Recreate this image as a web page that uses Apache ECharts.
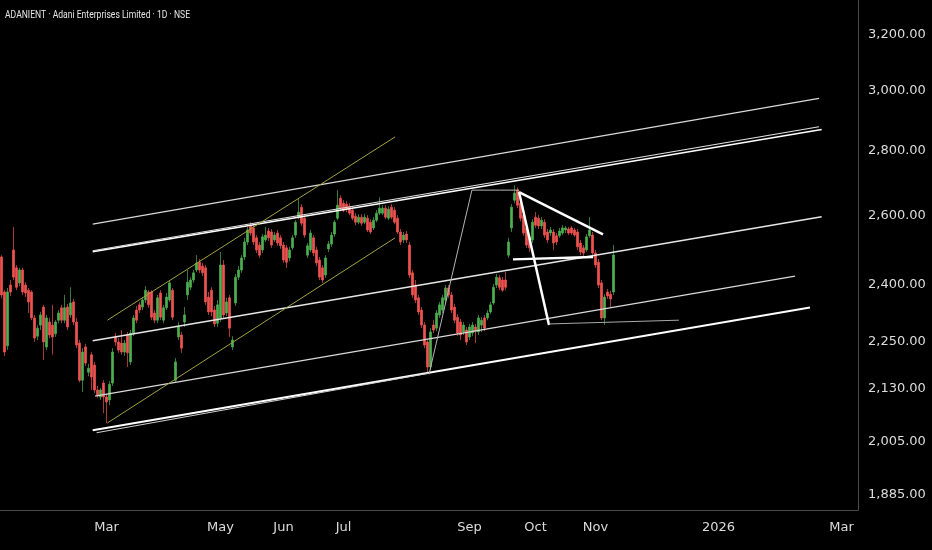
<!DOCTYPE html>
<html><head><meta charset="utf-8">
<script src="https://cdn.jsdelivr.net/npm/echarts@6/dist/echarts.min.js"></script>
<style>html,body{margin:0;padding:0;background:#000;}#c{width:932px;height:550px;}</style>
</head><body><div id="c"></div>
<script>
// daily candles: [open, close, low, high]
const ohlc = [
[2479,2373,2365,2484],[2381,2222,2212,2386],[2238,2381,2227,2392],[2400,2381,2370,2414],[2499,2422,2414,2566],
[2448,2394,2386,2456],[2406,2442,2397,2448],[2442,2381,2373,2448],[2400,2378,2367,2408],[2386,2354,2324,2392],
[2381,2311,2305,2386],[2311,2258,2248,2319],[2263,2284,2253,2292],[2292,2319,2279,2327],[2340,2248,2202,2346],
[2235,2311,2227,2319],[2300,2266,2258,2311],[2292,2261,2215,2346],[2269,2300,2261,2305],[2305,2324,2297,2332],
[2338,2305,2297,2346],[2305,2338,2297,2373],[2340,2287,2279,2348],[2319,2351,2311,2394],[2354,2300,2292,2362],
[2300,2240,2232,2311],[2245,2151,2146,2253],[2151,2222,2122,2232],[2235,2194,2187,2243],[2171,2181,2161,2192],
[2215,2159,2127,2222],[2189,2127,2120,2197],[2127,2115,2108,2137],[2110,2127,2103,2132],[2144,2110,2071,2151],
[2110,2098,2048,2117],[2103,2141,2090,2149],[2144,2222,2137,2232],[2261,2248,2238,2271],[2248,2227,2220,2258],
[2245,2222,2215,2279],[2222,2245,2212,2253],[2266,2220,2184,2274],[2197,2271,2189,2279],[2271,2311,2263,2319],
[2332,2305,2297,2343],[2346,2332,2324,2354],[2340,2359,2332,2367],[2359,2386,2351,2397],[2381,2346,2338,2386],
[2381,2313,2305,2386],[2324,2305,2297,2332],[2305,2365,2297,2373],[2378,2313,2305,2386],[2305,2338,2297,2346],
[2338,2367,2332,2378],[2359,2406,2354,2414],[2386,2313,2305,2392],[2151,2197,2146,2207],[2261,2287,2253,2300],
[2266,2232,2220,2274],[2300,2319,2287,2340],[2373,2408,2359,2442],[2394,2414,2386,2422],[2414,2434,2406,2442],
[2442,2462,2436,2484],[2464,2442,2434,2473],[2453,2434,2425,2462],[2448,2354,2346,2456],[2367,2327,2319,2381],
[2386,2327,2316,2394],[2332,2295,2287,2343],[2297,2346,2287,2359],[2311,2456,2300,2493],[2456,2319,2311,2470],
[2324,2354,2316,2365],[2365,2284,2261,2373],[2235,2253,2227,2263],[2351,2422,2343,2431],[2422,2442,2414,2453],
[2442,2476,2434,2484],[2479,2522,2470,2534],[2522,2557,2513,2566],[2571,2548,2540,2580],[2563,2522,2513,2571],
[2534,2499,2490,2542],[2513,2484,2476,2522],[2499,2537,2490,2545],[2528,2542,2522,2566],[2554,2534,2525,2563],
[2551,2513,2505,2560],[2528,2542,2522,2551],[2548,2519,2511,2557],[2534,2511,2502,2542],[2513,2470,2462,2522],
[2505,2464,2448,2513],[2476,2499,2467,2508],[2505,2534,2499,2542],[2542,2580,2534,2586],[2595,2610,2589,2652],
[2625,2577,2569,2634],[2592,2542,2534,2601],[2484,2511,2476,2519],[2499,2548,2493,2557],[2534,2490,2482,2542],
[2499,2462,2453,2508],[2470,2422,2414,2479],[2448,2414,2406,2456],[2428,2476,2420,2484],[2502,2516,2493,2525],
[2516,2542,2508,2551],[2545,2580,2537,2586],[2592,2631,2586,2677],[2652,2622,2613,2661],[2637,2616,2610,2646],
[2634,2619,2610,2643],[2628,2607,2601,2637],[2616,2592,2586,2625],[2598,2580,2571,2607],[2580,2595,2574,2604],
[2595,2577,2569,2604],[2580,2595,2574,2604],[2592,2557,2551,2601],[2580,2551,2545,2589],[2563,2586,2557,2595],
[2586,2607,2580,2616],[2607,2622,2601,2655],[2607,2622,2601,2631],[2622,2595,2589,2631],[2592,2619,2586,2628],
[2625,2595,2589,2634],[2616,2580,2574,2625],[2592,2551,2545,2601],[2551,2522,2513,2560],[2528,2542,2519,2551],
[2545,2528,2519,2554],[2513,2428,2420,2522],[2434,2373,2365,2442],[2400,2359,2351,2414],[2365,2327,2319,2373],
[2332,2292,2284,2340],[2292,2240,2232,2300],[2248,2184,2171,2256],[2184,2274,2176,2284],[2292,2279,2271,2305],
[2284,2324,2276,2332],[2319,2346,2311,2354],[2332,2365,2324,2373],[2359,2392,2351,2400],[2392,2373,2365,2400],
[2373,2332,2324,2381],[2340,2305,2297,2348],[2313,2271,2263,2321],[2300,2266,2253,2308],[2274,2292,2266,2300],
[2279,2248,2240,2287],[2261,2287,2253,2295],[2271,2292,2263,2300],[2287,2276,2245,2295],[2274,2311,2266,2319],
[2292,2305,2274,2313],[2311,2284,2276,2319],[2311,2324,2305,2332],[2327,2346,2321,2354],[2351,2394,2346,2403],
[2400,2422,2392,2431],[2420,2394,2386,2428],[2414,2386,2381,2422],[2414,2394,2386,2436],[2484,2522,2476,2534],
[2563,2625,2551,2634],[2646,2668,2637,2692],[2677,2631,2622,2686],[2637,2592,2583,2646],[2601,2548,2540,2610],
[2563,2513,2505,2571],[2537,2505,2493,2545],[2528,2580,2519,2589],[2595,2571,2563,2610],[2592,2569,2560,2601],
[2569,2586,2560,2595],[2580,2542,2534,2589],[2551,2528,2519,2560],[2548,2557,2540,2566],[2551,2519,2499,2560],
[2540,2522,2513,2548],[2540,2554,2534,2563],[2548,2563,2542,2571],[2557,2563,2548,2569],[2560,2548,2542,2566],
[2563,2548,2542,2569],[2557,2542,2537,2563],[2551,2508,2499,2560],[2519,2493,2484,2528],[2505,2490,2482,2513],
[2499,2537,2493,2545],[2540,2557,2534,2595],[2542,2490,2484,2551],[2490,2456,2448,2499],[2464,2400,2392,2473],
[2406,2311,2305,2414],[2311,2367,2292,2375],[2381,2370,2362,2389],[2375,2362,2340,2384],[2381,2484.5,2373,2513.5]
];
const lastPrice = 2484.5;
const slotCount = 286; // trading-day slots incl. future space
const xTickIdx = [35, 73, 94, 114, 156, 178, 198, 239, 280];
const xTickText = ['Mar', 'May', 'Jun', 'Jul', 'Sep', 'Oct', 'Nov', '2026', 'Mar'];
const yTicks = [1885, 2005, 2130, 2250, 2400, 2600, 2800, 3000, 3200];
const yRange = [1852.8, 3331.5];
const title = 'ADANIENT · Adani Enterprises Limited · 1D · NSE';

// user drawings: [barIndex, price]
const chanTop = [[30.4, 2574.5], [272.5, 2975]];
const chanUpper = [[30.4, 2494], [273.4, 2870]];
const chanUpper2 = [[30.4, 2496.6], [272.5, 2879.5]];
const chanMid = [[30.4, 2251], [273.4, 2596]];
const chanLowMid = [[31.2, 2112], [264.5, 2425]];
const chanBottom = [[30.4, 2031], [269.5, 2339]];
const chanBottom2 = [[31.7, 2025], [142.8, 2169]];
const oliveUp = [[35.3, 2305], [131.2, 2846]];
const oliveLow = [[35.3, 2048], [131.2, 2534]];
const greyPath = [[142.5, 2166], [156.8, 2677], [172.5, 2677]];
const triUpper = [[172.5, 2671], [200.5, 2544]];
const triDown = [[172.5, 2671], [182.5, 2292]];
const neckLine = [[170.5, 2472], [197.2, 2479]];
const greyLow = [[182.5, 2295], [225.8, 2305]];

const fmt = n => n.toLocaleString('en-US', {minimumFractionDigits: 2, maximumFractionDigits: 2});
const labelMap = {};
xTickIdx.forEach((v, i) => { labelMap[v] = xTickText[i]; });

function seg(pts, color, width) {
  return {
    type: 'line', data: pts.map(p => [p[0], Math.log(p[1])]), symbol: 'none', silent: true,
    lineStyle: {color: color, width: width}, z: 4, animation: false
  };
}

const chart = echarts.init(document.getElementById('c'), null, {renderer: 'canvas'});
chart.setOption({
  backgroundColor: '#000',
  animation: false,
  graphic: [{
    type: 'text', left: 5, top: 10, scaleX: 0.78,
    style: {text: title, fill: '#e6e6e6', font: '11px Roboto'}
  }],
  grid: {left: 0, right: 74, top: 0, bottom: 40, containLabel: false},
  xAxis: {
    type: 'value', min: -0.5, max: slotCount - 0.5,
    axisLine: {show: true, onZero: false, lineStyle: {color: '#4a4a4a', width: 1}},
    axisTick: {show: false}, splitLine: {show: false},
    axisLabel: {
      customValues: xTickIdx, formatter: v => labelMap[v] || '',
      color: '#dcdcdc', fontSize: 13, fontFamily: 'DejaVu Sans', margin: 11
    }
  },
  yAxis: {
    type: 'value', position: 'right', min: Math.log(yRange[0]), max: Math.log(yRange[1]),
    axisLine: {show: true, onZero: false, lineStyle: {color: '#4a4a4a', width: 1}},
    axisTick: {show: false}, splitLine: {show: false},
    axisLabel: {
      customValues: yTicks.map(Math.log), formatter: v => fmt(Math.round(Math.exp(v) * 100) / 100),
      color: '#dcdcdc', fontSize: 13, fontFamily: 'DejaVu Sans', margin: 10
    }
  },
  series: [
    {
      type: 'candlestick',
      data: ohlc.map((d, i) => [i, Math.log(d[0]), Math.log(d[1]), Math.log(d[2]), Math.log(d[3])]),
      encode: {x: 0, y: [1, 2, 3, 4]},
      barWidth: 2.4,
      itemStyle: {color: '#4caf50', color0: '#ef5350', borderColor: '#4caf50', borderColor0: '#ef5350', borderWidth: 0.7},
      z: 2,
      markLine: {
        silent: true, symbol: ['none', 'none'],
        lineStyle: {opacity: 0},
        label: {
          show: true, position: 'end', distance: 1, formatter: fmt(lastPrice),
          backgroundColor: '#4caf50', color: '#fff', fontSize: 13, fontFamily: 'DejaVu Sans',
          padding: [6, 6, 5, 10], lineHeight: 14
        },
        data: [{yAxis: Math.log(lastPrice)}]
      }
    },
    seg(chanTop, '#d9d9d9', 1.2),
    seg(chanUpper, '#ffffff', 1.5),
    seg(chanUpper2, '#e0e0e0', 1.2),
    seg(chanMid, '#e6e6e6', 1.5),
    seg(chanLowMid, '#d9d9d9', 1.2),
    seg(chanBottom, '#ffffff', 2),
    seg(chanBottom2, '#cfcfcf', 1),
    seg(oliveUp, '#a3a23f', 1),
    seg(oliveLow, '#a3a23f', 1),
    seg(greyPath, '#b5b5b5', 1),
    seg(triUpper, '#ffffff', 2.5),
    seg(triDown, '#ffffff', 2.5),
    seg(neckLine, '#ffffff', 2.5),
    seg(greyLow, '#a8a8a8', 1)
  ]
});
</script></body></html>
